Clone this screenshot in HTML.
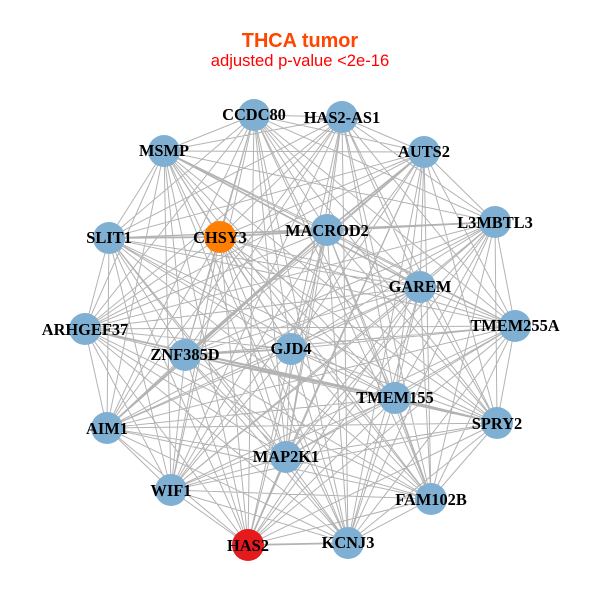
<!DOCTYPE html>
<html><head><meta charset="utf-8"><style>html,body{margin:0;padding:0;background:#fff}svg{display:block}
.l{font:bold 16.4px "Liberation Serif",serif;fill:#000;text-anchor:middle}</style></head><body>
<svg width="600" height="600" viewBox="0 0 600 600" xmlns="http://www.w3.org/2000/svg">
<rect width="600" height="600" fill="#fff"/>
<path fill="none" stroke="#b3b3b3" stroke-width="1" d="
M254 115L342 117M254 115L424 152M254 115L495 222M254 115L515 326M254 115L497 423M254 115L431 499M254 115L348 543M254 115L248 545M254 115L171 490M254 115L107 428M254 115L85 329M254 115L109 238M254 115L164 151M254 115L220 237M254 115L327 230M254 115L420 287M254 115L395 398M254 115L286 457M254 115L185 355M254 115L291 349
M342 117L424 152M342 117L495 222M342 117L515 326M342 117L497 423M342 117L431 499M342 117L348 543M342 117L248 545M342 117L171 490M342 117L107 428M342 117L85 329M342 117L109 238M342 117L164 151M342 117L220 237M342 117L327 230M342 117L420 287M342 117L395 398M342 117L286 457M342 117L185 355M342 117L291 349
M424 152L495 222M424 152L515 326M424 152L497 423M424 152L431 499M424 152L348 543M424 152L248 545M424 152L171 490M424 152L107 428M424 152L85 329M424 152L109 238M424 152L164 151M424 152L220 237M424 152L327 230M424 152L420 287M424 152L395 398M424 152L286 457M424 152L185 355M424 152L291 349
M495 222L515 326M495 222L497 423M495 222L431 499M495 222L348 543M495 222L248 545M495 222L171 490M495 222L107 428M495 222L85 329M495 222L109 238M495 222L164 151M495 222L220 237M495 222L327 230M495 222L420 287M495 222L395 398M495 222L286 457M495 222L185 355M495 222L291 349
M515 326L497 423M515 326L431 499M515 326L348 543M515 326L248 545M515 326L171 490M515 326L107 428M515 326L85 329M515 326L109 238M515 326L164 151M515 326L220 237M515 326L327 230M515 326L420 287M515 326L395 398M515 326L286 457M515 326L185 355M515 326L291 349
M497 423L431 499M497 423L348 543M497 423L248 545M497 423L171 490M497 423L107 428M497 423L85 329M497 423L109 238M497 423L164 151M497 423L220 237M497 423L327 230M497 423L420 287M497 423L395 398M497 423L286 457M497 423L185 355M497 423L291 349
M431 499L348 543M431 499L248 545M431 499L171 490M431 499L107 428M431 499L85 329M431 499L109 238M431 499L164 151M431 499L220 237M431 499L327 230M431 499L420 287M431 499L395 398M431 499L286 457M431 499L185 355M431 499L291 349
M348 543L248 545M348 543L171 490M348 543L107 428M348 543L85 329M348 543L109 238M348 543L164 151M348 543L220 237M348 543L327 230M348 543L420 287M348 543L395 398M348 543L286 457M348 543L185 355M348 543L291 349
M248 545L171 490M248 545L107 428M248 545L85 329M248 545L109 238M248 545L164 151M248 545L220 237M248 545L327 230M248 545L420 287M248 545L395 398M248 545L286 457M248 545L185 355M248 545L291 349
M171 490L107 428M171 490L85 329M171 490L109 238M171 490L164 151M171 490L220 237M171 490L327 230M171 490L420 287M171 490L395 398M171 490L286 457M171 490L185 355M171 490L291 349
M107 428L85 329M107 428L109 238M107 428L164 151M107 428L220 237M107 428L327 230M107 428L420 287M107 428L395 398M107 428L286 457M107 428L185 355M107 428L291 349
M85 329L109 238M85 329L164 151M85 329L220 237M85 329L327 230M85 329L420 287M85 329L395 398M85 329L286 457M85 329L185 355M85 329L291 349
M109 238L164 151M109 238L220 237M109 238L327 230M109 238L420 287M109 238L395 398M109 238L286 457M109 238L185 355M109 238L291 349
M164 151L220 237M164 151L327 230M164 151L420 287M164 151L395 398M164 151L286 457M164 151L185 355M164 151L291 349
M220 237L327 230M220 237L420 287M220 237L395 398M220 237L286 457M220 237L185 355M220 237L291 349
M327 230L420 287M327 230L395 398M327 230L286 457M327 230L185 355M327 230L291 349
M420 287L395 398M420 287L286 457M420 287L185 355M420 287L291 349
M395 398L286 457M395 398L185 355M395 398L291 349
M286 457L185 355M286 457L291 349
M185 355L291 349"/>
<path fill="none" stroke="#b3b3b3" stroke-width="1.7" d="M85 329L395 398M185 355L395 398M395 398L497 423M164 151L420 287M109 238L220 237M220 237L327 230M327 230L495 222M327 230L185 355M327 230L424 152M107 428L327 230M248 545L286 457M395 398L431 499M248 545L348 543M185 355L291 349"/>
<g>
<circle cx="254" cy="115" r="16" fill="#7fb0d3"/><circle cx="342" cy="117" r="16" fill="#7fb0d3"/><circle cx="424" cy="152" r="16" fill="#7fb0d3"/><circle cx="495" cy="222" r="16" fill="#7fb0d3"/><circle cx="515" cy="326" r="16" fill="#7fb0d3"/><circle cx="497" cy="423" r="16" fill="#7fb0d3"/><circle cx="431" cy="499" r="16" fill="#7fb0d3"/><circle cx="348" cy="543" r="16" fill="#7fb0d3"/><circle cx="248" cy="545" r="16" fill="#e41a1c"/><circle cx="171" cy="490" r="16" fill="#7fb0d3"/><circle cx="107" cy="428" r="16" fill="#7fb0d3"/><circle cx="85" cy="329" r="16" fill="#7fb0d3"/><circle cx="109" cy="238" r="16" fill="#7fb0d3"/><circle cx="164" cy="151" r="16" fill="#7fb0d3"/><circle cx="220" cy="237" r="16" fill="#ff7f00"/><circle cx="327" cy="230" r="16" fill="#7fb0d3"/><circle cx="420" cy="287" r="16" fill="#7fb0d3"/><circle cx="395" cy="398" r="16" fill="#7fb0d3"/><circle cx="286" cy="457" r="16" fill="#7fb0d3"/><circle cx="185" cy="355" r="16" fill="#7fb0d3"/><circle cx="291" cy="349" r="16" fill="#7fb0d3"/>
</g>
<g>
<text class="l" x="254" y="120">CCDC80</text><text class="l" x="342" y="123">HAS2-AS1</text><text class="l" x="424" y="157">AUTS2</text><text class="l" x="495" y="228">L3MBTL3</text><text class="l" x="515" y="331">TMEM255A</text><text class="l" x="497" y="429">SPRY2</text><text class="l" x="431" y="505">FAM102B</text><text class="l" x="348" y="548">KCNJ3</text><text class="l" x="248" y="551">HAS2</text><text class="l" x="171" y="496">WIF1</text><text class="l" x="107" y="434">AIM1</text><text class="l" x="85" y="335">ARHGEF37</text><text class="l" x="109" y="243">SLIT1</text><text class="l" x="164" y="156">MSMP</text><text class="l" x="220" y="243">CHSY3</text><text class="l" x="327" y="236">MACROD2</text><text class="l" x="420" y="292">GAREM</text><text class="l" x="395" y="403">TMEM155</text><text class="l" x="286" y="462">MAP2K1</text><text class="l" x="185" y="360">ZNF385D</text><text class="l" x="291" y="354">GJD4</text>
</g>
<text x="300" y="47" text-anchor="middle" style="font:bold 19.9px 'Liberation Sans',sans-serif" fill="#ff4500">THCA tumor</text>
<text x="300" y="66" text-anchor="middle" style="font:16.6px 'Liberation Sans',sans-serif" fill="#ff0000">adjusted p-value &lt;2e-16</text>
</svg>
</body></html>
